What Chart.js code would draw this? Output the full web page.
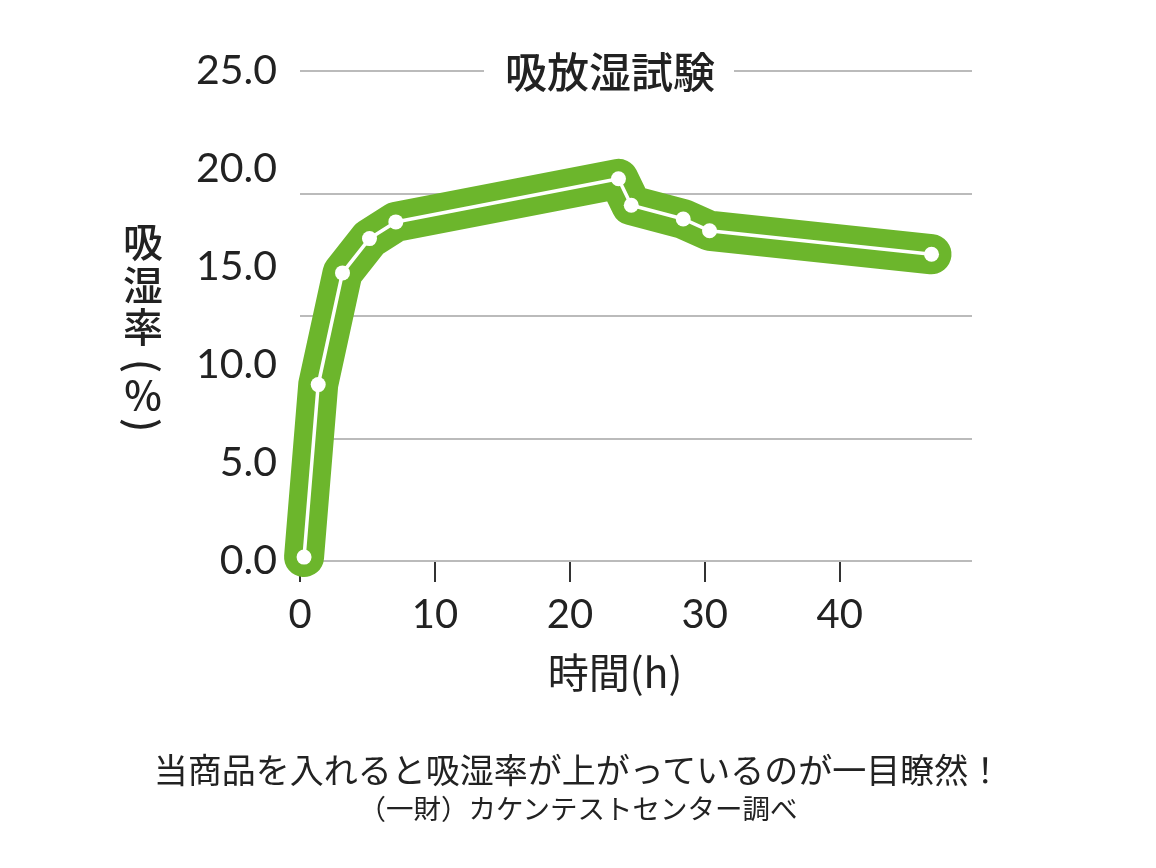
<!DOCTYPE html>
<html lang="ja">
<head>
<meta charset="utf-8">
<title>吸放湿試験</title>
<script src="https://cdn.jsdelivr.net/npm/chart.js@4.4.0/dist/chart.umd.min.js"></script>
<style>
  html, body { margin: 0; padding: 0; background: #fff; }
  #wrap { position: relative; width: 1156px; height: 868px; overflow: hidden; }
  #chart { position: absolute; left: 0; top: 0; }
  .note { position: absolute; left: 0; width: 1156px; text-align: center; color: #222;
          font-family: "Noto Sans CJK JP", "Noto Sans", sans-serif; white-space: nowrap; }
  #note1 { top: 749px; font-size: 34px; line-height: 40px; }
  #note2 { top: 791px; font-size: 27.5px; line-height: 33px; }
</style>
</head>
<body>
<div id="wrap">
  <canvas id="chart" width="1156" height="868"></canvas>
  <div class="note" id="note1">当商品を入れると吸湿率が上がっているのが一目瞭然！</div>
  <div class="note" id="note2">（一財）カケンテストセンター調べ</div>
</div>
<script>
// 時間 (h)
const horas = [0.3, 1.35, 3.15, 5.15, 7.1, 23.6, 24.55, 28.4, 30.35, 46.8];
// 吸湿率 (%)
const humedad = [0.2, 9.0, 14.7, 16.45, 17.3, 19.5, 18.15, 17.45, 16.85, 15.65];

const tituloChart = '吸放湿試験';
const tituloX = '時間(h)';
const tituloY = ['吸', '湿', '率', '(', '%', ')'];

const verde = 'rgb(108, 182, 44)';
const fuenteCJK = '"Noto Sans CJK JP", "Noto Sans", sans-serif';
const fuenteNum = 'Lato, "Noto Sans", sans-serif';

const puntos = horas.map((h, i) => ({ x: h, y: humedad[i] }));

// Textos: título con hueco en la línea superior, título de ejes
const textosPlugin = {
    id: 'textos',
    afterDraw(chart) {
        const ctx = chart.ctx;
        const ca = chart.chartArea;
        ctx.save();

        // título
        const tx = ca.left + 310;
        const ty = ca.top + 1;
        ctx.fillStyle = '#fff';
        ctx.fillRect(tx - 126, ty - 26, 250, 52);
        ctx.fillStyle = '#222';
        ctx.font = '500 42px ' + fuenteCJK;
        ctx.textAlign = 'center';
        ctx.textBaseline = 'middle';
        ctx.fillText(tituloChart, tx, ty);

        // eje x
        ctx.font = '400 41px ' + fuenteCJK;
        ctx.fillText(tituloX, ca.left + 315, ca.bottom + 111);

        // eje y (vertical, caracteres de pie)
        ctx.font = '500 40px ' + fuenteCJK;
        const yx = 143;
        const posY = [242, 285, 327, 366, 395, 425];
        tituloY.forEach((c, i) => {
            ctx.save();
            ctx.translate(yx, posY[i]);
            if (c === '(' || c === ')') ctx.rotate(Math.PI / 2);
            ctx.fillText(c, 0, 0);
            ctx.restore();
        });

        ctx.restore();
    }
};

new Chart(document.getElementById('chart'), {
    type: 'line',
    data: {
        datasets: [
            {
                data: puntos,
                borderColor: '#fff',
                borderWidth: 3.5,
                pointRadius: 7.5,
                pointBackgroundColor: '#fff',
                pointBorderWidth: 0,
                tension: 0,
                clip: false,
                order: 0
            },
            {
                data: puntos,
                borderColor: verde,
                borderWidth: 40,
                borderJoinStyle: 'round',
                borderCapStyle: 'round',
                pointRadius: 0,
                tension: 0,
                clip: false,
                order: 1
            }
        ]
    },
    options: {
        responsive: false,
        animation: false,
        events: [],
        layout: { padding: { left: 0, right: 184, top: 71, bottom: 0 } },
        plugins: {
            legend: { display: false },
            tooltip: { enabled: false }
        },
        scales: {
            x: {
                type: 'linear',
                min: 0,
                max: 49.8,
                ticks: {
                    stepSize: 10,
                    includeBounds: false,
                    color: '#222',
                    padding: 9,
                    font: { family: fuenteNum, size: 40 }
                },
                grid: {
                    drawOnChartArea: false,
                    drawTicks: true,
                    tickLength: 21,
                    color: '#333',
                    lineWidth: 2
                },
                border: { display: false },
                afterFit: s => { s.height = 307; }
            },
            y: {
                position: 'left',
                min: 0,
                max: 25,
                ticks: {
                    stepSize: 5,
                    color: '#222',
                    padding: 15,
                    font: { family: fuenteNum, size: 41 },
                    callback: v => v.toFixed(1)
                },
                grid: { display: false },
                border: { display: false },
                afterFit: s => { s.width = 300; }
            },
            yGrid: {
                position: 'left',
                min: 0,
                max: 25,
                ticks: { stepSize: 6.25, display: false },
                grid: { color: '#bbb', lineWidth: 2, drawTicks: false },
                border: { display: false },
                afterFit: s => { s.width = 0; }
            }
        }
    },
    plugins: [textosPlugin]
});
</script>
</body>
</html>
